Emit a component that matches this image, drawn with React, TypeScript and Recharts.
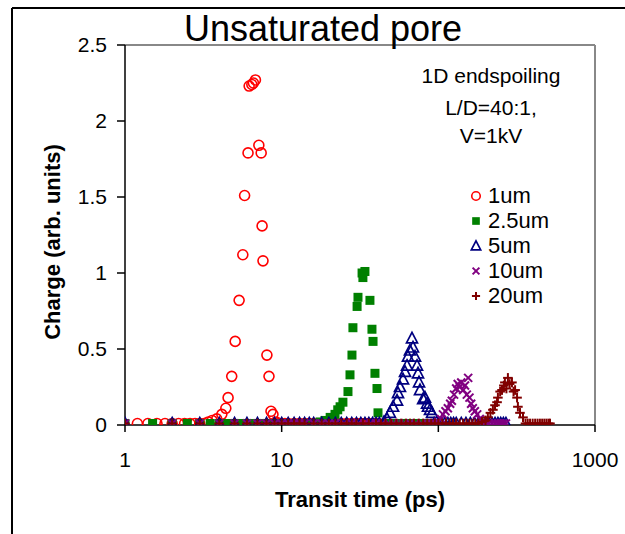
import React from 'react';
import { ScatterChart, Scatter, XAxis, YAxis, ReferenceLine, Legend } from 'recharts';

const FONT = '"Liberation Sans", Arial, Helvetica, sans-serif';

const xTicks = [1, 10, 100, 1000];
const yTicks = [0, 0.5, 1, 1.5, 2, 2.5];
const seriesNames = ['1um', '2.5um', '5um', '10um', '20um'];
const seriesColors = ['#FF0000', '#008000', '#000080', '#800080', '#800000'];
const noteLines = ['1D endspoiling', 'L/D=40:1,', 'V=1kV'];

// [transit time (ps), charge (arb. units)]
const s1um: [number, number][] = [
  [1.2, 0.01], [1.4, 0.01], [1.6, 0.01], [1.8, 0.01], [2.0, 0.01], [2.2, 0.01], [2.4, 0.01],
  [2.6, 0.01], [2.8, 0.01], [3.0, 0.01], [3.2, 0.01], [3.4, 0.02], [3.6, 0.03], [3.85, 0.04],
  [4.15, 0.07], [4.4, 0.11], [4.55, 0.18], [4.8, 0.32], [5.05, 0.55], [5.35, 0.82], [5.65, 1.12],
  [5.8, 1.51], [6.1, 1.79], [6.2, 2.23], [6.45, 2.24], [6.6, 2.25], [6.8, 2.27], [7.15, 1.84],
  [7.4, 1.79], [7.5, 1.31], [7.6, 1.08], [8.05, 0.46], [8.3, 0.32], [8.55, 0.09], [8.8, 0.07],
  [9.2, 0.02], [9.6, 0.01], [10, 0.01], [10.5, 0.01], [11, 0.01], [12, 0.01], [13, 0.01],
  [14, 0.01], [15, 0.01], [16, 0.01], [18, 0.01], [20, 0.01], [22, 0.01], [24, 0.01],
  [26, 0.01], [28, 0.01], [30, 0.01], [32, 0.01], [34, 0.01], [36, 0.01], [38, 0.01], [40, 0.01],
];

const s2_5um: [number, number][] = [
  [1, 0.01], [1.5, 0.01], [2, 0.01], [2.5, 0.01], [3, 0.01], [3.5, 0.01], [4, 0.01], [4.5, 0.01],
  [5, 0.01], [5.5, 0.01], [6, 0.01], [6.5, 0.01], [7, 0.01], [7.5, 0.01], [8, 0.01], [8.5, 0.01],
  [9, 0.01], [9.5, 0.01], [10, 0.01], [10.5, 0.01], [11, 0.01], [11.5, 0.01], [12, 0.01],
  [12.5, 0.01], [13, 0.01], [13.5, 0.01], [14, 0.01], [14.5, 0.01], [15, 0.01], [15.5, 0.01],
  [16, 0.01], [16.5, 0.01], [17, 0.01], [17.6, 0.02], [18.9, 0.03], [20.4, 0.05], [21.9, 0.07],
  [22.8, 0.1], [23.6, 0.12], [24.6, 0.15], [26.5, 0.22], [27.3, 0.33], [28.1, 0.46], [28.5, 0.64],
  [30.3, 0.78], [30.7, 0.84], [32.6, 1.0], [33.0, 0.97], [34.0, 1.01], [36.6, 0.82], [37.7, 0.63],
  [38.3, 0.55], [39.4, 0.34], [40.6, 0.24], [41.2, 0.08], [43, 0.01], [46, 0.01], [50, 0.01],
  [54, 0.01], [58, 0.01], [62, 0.01], [66, 0.01], [70, 0.01], [75, 0.01], [80, 0.01], [85, 0.01],
  [90, 0.01],
];

const s5um: [number, number][] = [
  [1, 0.01], [2, 0.01], [3, 0.01], [4, 0.01], [5, 0.01], [6, 0.01], [7, 0.01], [8, 0.01],
  [9, 0.01], [10, 0.01], [11, 0.01], [12, 0.01], [13, 0.01], [14, 0.01], [15, 0.01], [16, 0.01],
  [18, 0.01], [20, 0.01], [22, 0.01], [24, 0.01], [26, 0.01], [28, 0.01], [30, 0.01], [32, 0.01],
  [34, 0.01], [36, 0.01], [38, 0.01], [40, 0.01], [42, 0.01], [45, 0.02], [47, 0.04],
  [49.1, 0.08], [51.4, 0.12], [54.5, 0.16], [55.3, 0.21], [56.9, 0.25], [59.5, 0.3], [61.3, 0.35],
  [63.1, 0.39], [64.0, 0.45], [65.9, 0.49], [67.9, 0.57], [68.9, 0.51], [71.0, 0.45], [73.1, 0.39],
  [74.2, 0.34], [75.3, 0.28], [76.4, 0.23], [80, 0.17], [82.2, 0.18], [84.7, 0.14], [85.9, 0.12],
  [88.5, 0.1], [91.1, 0.08], [94, 0.01], [100, 0.01], [105, 0.01], [110, 0.01], [115, 0.01],
  [120, 0.01], [125, 0.01], [130, 0.01], [140, 0.01], [150, 0.01], [160, 0.01], [170, 0.01],
  [180, 0.01], [190, 0.01], [200, 0.01], [210, 0.01], [220, 0.01], [230, 0.01], [240, 0.01],
  [250, 0.01], [260, 0.01], [270, 0.01],
];

const s10um: [number, number][] = [
  [1, 0.01], [2, 0.01], [3, 0.01], [4, 0.01], [5, 0.01], [6, 0.01], [7, 0.01], [8, 0.01],
  [9, 0.01], [10, 0.01], [11, 0.01], [12, 0.01], [13, 0.01], [14, 0.01], [16, 0.01], [18, 0.01],
  [20, 0.01], [22, 0.01], [25, 0.01], [28, 0.01], [31, 0.01], [34, 0.01], [37, 0.01], [40, 0.01],
  [44, 0.01], [48, 0.01], [52, 0.01], [56, 0.01], [60, 0.01], [66, 0.01], [72, 0.01], [78, 0.01],
  [84, 0.01], [90, 0.01], [95, 0.01], [100, 0.02], [104, 0.04], [107, 0.07], [111, 0.09],
  [115, 0.11], [119, 0.14], [122, 0.16], [126, 0.2], [130, 0.24], [133, 0.27], [137, 0.25],
  [140, 0.28], [144, 0.23], [148, 0.26], [152, 0.2], [155, 0.31], [158, 0.18], [162, 0.14],
  [166, 0.11], [171, 0.09], [177, 0.07], [184, 0.04], [190, 0.02], [196, 0.01], [203, 0.01],
  [210, 0.01], [220, 0.01], [230, 0.01], [240, 0.01], [250, 0.01], [260, 0.01], [270, 0.01],
];

const s20um: [number, number][] = [
  [1, 0.01], [2, 0.01], [3, 0.01], [4, 0.01], [5, 0.01], [6, 0.01], [7, 0.01], [8, 0.01],
  [9, 0.01], [10, 0.01], [11, 0.01], [12, 0.01], [13, 0.01], [14, 0.01], [16, 0.01], [18, 0.01],
  [20, 0.01], [22, 0.01], [24, 0.01], [26, 0.01], [28, 0.01], [30, 0.01], [33, 0.01], [36, 0.01],
  [40, 0.01], [43, 0.01], [46, 0.01], [50, 0.01], [54, 0.01], [58, 0.01], [62, 0.01], [66, 0.01],
  [70, 0.01], [75, 0.01], [80, 0.01], [85, 0.01], [90, 0.01], [95, 0.01], [100, 0.01],
  [106, 0.01], [112, 0.01], [118, 0.01], [124, 0.01], [130, 0.01], [137, 0.01], [144, 0.01],
  [151, 0.01], [158, 0.01], [165, 0.01], [172, 0.01], [180, 0.01], [190, 0.02], [200, 0.03],
  [207, 0.05], [215, 0.08], [223, 0.1], [230, 0.13], [237, 0.15], [240, 0.18], [248, 0.22],
  [255, 0.23], [262, 0.26], [266, 0.28], [272, 0.24], [278, 0.31], [285, 0.27], [295, 0.28],
  [302, 0.22], [309, 0.23], [318, 0.18], [322, 0.12], [332, 0.08], [347, 0.05], [360, 0.01],
  [372, 0.01], [385, 0.01], [400, 0.01], [415, 0.01], [430, 0.01], [445, 0.01], [460, 0.01],
  [475, 0.01], [490, 0.01], [505, 0.01], [516, 0.01],
];

const toRows = (arr: [number, number][]) => arr.map(([t, q]) => ({ t, q }));
const seriesData = [s1um, s2_5um, s5um, s10um, s20um].map(toRows);

function Marker({ kind, cx, cy, legend }: { kind: number; cx: number; cy: number; legend?: boolean }) {
  const k = legend ? 0.85 : 1;
  const c = seriesColors[kind];
  if (kind === 0) return <circle cx={cx} cy={cy} r={5 * k} fill="none" stroke={c} strokeWidth={1.6} />;
  if (kind === 1) return <rect x={cx - 4.5 * k} y={cy - 4.5 * k} width={9 * k} height={9 * k} fill={c} />;
  if (kind === 2) {
    const h = 6 * k, w = 5.5 * k;
    return (
      <path d={`M${cx},${cy - h}L${cx + w},${cy + h * 0.75}L${cx - w},${cy + h * 0.75}Z`}
        fill="none" stroke={c} strokeWidth={1.7} strokeLinejoin="miter" />
    );
  }
  if (kind === 3) {
    const d = 4 * k;
    return (
      <g stroke={c} strokeWidth={2}>
        <line x1={cx - d} y1={cy - d} x2={cx + d} y2={cy + d} />
        <line x1={cx - d} y1={cy + d} x2={cx + d} y2={cy - d} />
      </g>
    );
  }
  const d = 4.8 * k;
  return (
    <g stroke={c} strokeWidth={2}>
      <line x1={cx - d} y1={cy} x2={cx + d} y2={cy} />
      <line x1={cx} y1={cy - d} x2={cx} y2={cy + d} />
    </g>
  );
}

function LegendBox() {
  return (
    <div style={{ fontFamily: FONT, fontSize: 22, color: '#000' }}>
      {seriesNames.map((name, i) => (
        <div key={name} style={{ height: 25, display: 'flex', alignItems: 'center' }}>
          <svg width={14} height={14} style={{ display: 'block' }}>
            <Marker kind={i} cx={7} cy={7} legend />
          </svg>
          <span style={{ marginLeft: 5, lineHeight: '25px' }}>{name}</span>
        </div>
      ))}
    </div>
  );
}

export default function App() {
  const tickStyle = { fontSize: 21, fill: '#000', fontFamily: FONT };
  return (
    <div style={{ position: 'absolute', left: 0, top: 0, width: 625, height: 534, overflow: 'hidden', background: '#fff' }}>
      <ScatterChart width={625} height={534} margin={{ top: 45, right: 30, bottom: 79, left: 65 }}>
        <XAxis
          dataKey="t"
          type="number"
          scale="log"
          domain={[1, 1000]}
          ticks={xTicks}
          allowDataOverflow
          height={30}
          tickSize={7}
          tickMargin={20}
          axisLine={{ stroke: '#000', strokeWidth: 1.5 }}
          tickLine={{ stroke: '#000', strokeWidth: 1.5 }}
          tick={tickStyle}
          interval={0}
        />
        <YAxis
          dataKey="q"
          type="number"
          domain={[0, 2.5]}
          ticks={yTicks}
          allowDataOverflow
          width={60}
          tickSize={8}
          tickMargin={10}
          axisLine={{ stroke: '#000', strokeWidth: 1.5 }}
          tickLine={{ stroke: '#000', strokeWidth: 1.5 }}
          tick={tickStyle}
          interval={0}
        />
        <ReferenceLine y={2.5} stroke="#888" strokeWidth={2} />
        <ReferenceLine x={1000} stroke="#888" strokeWidth={2} />
        {seriesData.map((d, i) => (
          <Scatter
            key={seriesNames[i]}
            name={seriesNames[i]}
            data={d}
            fill={seriesColors[i]}
            isAnimationActive={false}
            shape={(p: any) => <Marker kind={i} cx={p.cx} cy={p.cy} />}
          />
        ))}
        <Legend
          layout="vertical"
          align="center"
          verticalAlign="middle"
          wrapperStyle={{ left: 469, top: 183, width: 130, height: 125 }}
          content={() => <LegendBox />}
        />
      </ScatterChart>
      <svg width={625} height={534} style={{ position: 'absolute', left: 0, top: 0, pointerEvents: 'none' }}>
        <line x1={12} y1={8} x2={12} y2={534} stroke="#000" strokeWidth={2} />
        <line x1={12} y1={8} x2={625} y2={8} stroke="#000" strokeWidth={2} />
        <text x={323} y={41} textAnchor="middle" fontSize={36} fontFamily={FONT} fill="#000">Unsaturated pore</text>
        {noteLines.map((s, i) => (
          <text key={s} x={491} y={[83, 115, 143][i]} textAnchor="middle" fontSize={21} fontFamily={FONT} fill="#000">{s}</text>
        ))}
        <text x={360} y={507} textAnchor="middle" fontSize={22} fontWeight="bold" fontFamily={FONT} fill="#000">Transit time (ps)</text>
        <text transform="translate(60,242) rotate(-90)" textAnchor="middle" fontSize={22} fontWeight="bold" fontFamily={FONT} fill="#000">Charge (arb. units)</text>
      </svg>
    </div>
  );
}
